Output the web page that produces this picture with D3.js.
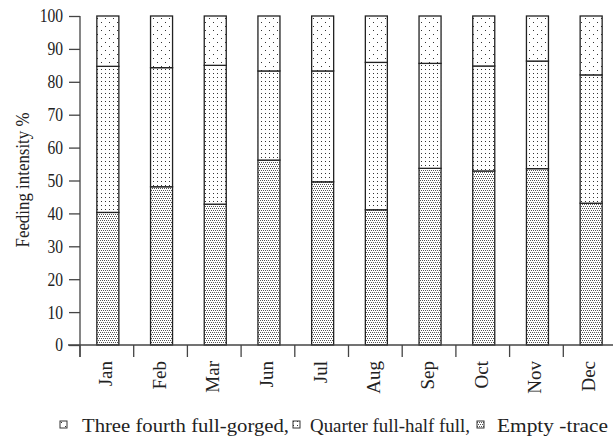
<!DOCTYPE html>
<html>
<head>
<meta charset="utf-8">
<script src="https://cdn.jsdelivr.net/npm/d3@7/dist/d3.min.js"></script>
</head>
<body style="margin:0">
<svg id="chart" width="613" height="436"></svg>
<script>
// Monate und Anteile (%) je Fuellungsgrad, von unten nach oben gestapelt
const months = ["Jan", "Feb", "Mar", "Jun", "Jul", "Aug", "Sep", "Oct", "Nov", "Dec"];
const emptyTrace = [40.3, 48.1, 42.8, 56.2, 49.6, 41.1, 53.7, 52.9, 53.6, 43.1];
const quarterHalf = [44.4, 36.2, 42.2, 27.1, 33.7, 44.8, 31.9, 31.9, 32.7, 39.0];
const threeFourth = [15.3, 15.7, 15.0, 16.7, 16.7, 14.1, 14.4, 15.2, 13.7, 17.9];
const yTicks = [0, 10, 20, 30, 40, 50, 60, 70, 80, 90, 100];

const seriesKeys = ["empty", "quarter", "three"];
const legendLabels = ["Three fourth full-gorged,", "Quarter full-half full,", "Empty -trace"];

const table = months.map((m, i) => ({
  month: m,
  empty: emptyTrace[i],
  quarter: quarterHalf[i],
  three: threeFourth[i]
}));

const serif = "Liberation Serif";
const svg = d3.select("#chart");
const margin = { left: 80, top: 16, bottom: 345 };

// Muster (Punktraster) fuer die drei Klassen
const defs = svg.append("defs");
function dotPattern(id, w, h, dots, color) {
  const p = defs.append("pattern")
    .attr("id", id)
    .attr("patternUnits", "userSpaceOnUse")
    .attr("width", w)
    .attr("height", h);
  p.append("rect").attr("width", w).attr("height", h).attr("fill", "#fff");
  dots.forEach(d => {
    p.append("rect")
      .attr("x", d[0]).attr("y", d[1])
      .attr("width", 1).attr("height", 1)
      .attr("fill", color);
  });
}
dotPattern("pat-three", 8, 8, [[1, 2], [5, 6]], "#333");
dotPattern("pat-quarter", 4, 4, [[1, 1]], "#333");
dotPattern("pat-empty", 4, 4, [[0, 0], [2, 0], [1, 2], [3, 2]], "#555");

const fillFor = {
  empty: "url(#pat-empty)",
  quarter: "url(#pat-quarter)",
  three: "url(#pat-three)"
};

const x = d3.scaleBand()
  .domain(months)
  .range([margin.left, 617])
  .paddingInner(0.59)
  .paddingOuter(0.295);

const y = d3.scaleLinear()
  .domain([0, 100])
  .range([margin.bottom, margin.top]);

const stacked = d3.stack().keys(seriesKeys)(table);

// Balken
const layers = svg.append("g").attr("class", "bars")
  .selectAll("g")
  .data(stacked)
  .enter()
  .append("g")
    .attr("fill", d => fillFor[d.key]);

layers.selectAll("rect")
  .data(d => d)
  .enter()
  .append("rect")
    .attr("x", d => x(d.data.month) + 1)
    .attr("y", d => y(d[1]))
    .attr("width", x.bandwidth())
    .attr("height", d => y(d[0]) - y(d[1]))
    .attr("stroke", "#222")
    .attr("stroke-width", 1.3);

// Achsenlinien
const axisColor = "#444";
svg.append("line")
  .attr("x1", margin.left).attr("x2", margin.left)
  .attr("y1", y(100)).attr("y2", margin.bottom + 12)
  .attr("stroke", axisColor).attr("stroke-width", 1.3);
svg.append("line")
  .attr("x1", margin.left - 12).attr("x2", 617)
  .attr("y1", margin.bottom).attr("y2", margin.bottom)
  .attr("stroke", axisColor).attr("stroke-width", 1.3);

// y-Achse: Striche ueber d3.axisLeft, Zahlen als eigene Texte
const yAxis = svg.append("g")
  .attr("transform", `translate(${margin.left},0)`)
  .call(d3.axisLeft(y).tickValues(yTicks).tickSize(11).tickSizeOuter(0).tickFormat(""));
yAxis.select(".domain").remove();
yAxis.selectAll(".tick line").attr("stroke", axisColor).attr("stroke-width", 1.3);

svg.append("g").selectAll("text")
  .data(yTicks)
  .enter()
  .append("text")
    .attr("transform", d => `translate(63,${y(d)}) scale(0.82,1)`)
    .attr("text-anchor", "end")
    .attr("dy", "0.34em")
    .attr("font-family", serif)
    .style("font-family", serif)
    .attr("font-size", 19)
    .attr("fill", "#222")
    .text(d => d);

// x-Achse: Striche an den Kategoriegrenzen
const step = x.step();
const boundaries = months.map(m => x(m) + x.bandwidth() / 2 - step / 2);
boundaries.push(x(months[months.length - 1]) + x.bandwidth() / 2 + step / 2);

svg.append("g").selectAll("line")
  .data(boundaries)
  .enter()
  .append("line")
    .attr("x1", d => d).attr("x2", d => d)
    .attr("y1", margin.bottom).attr("y2", margin.bottom + 12)
    .attr("stroke", axisColor).attr("stroke-width", 1.3);

svg.append("g").selectAll("text")
  .data(months)
  .enter()
  .append("text")
    .attr("transform", d => `translate(${x(d) + x.bandwidth() / 2 + 5},361) rotate(-90)`)
    .attr("text-anchor", "end")
    .attr("font-family", serif)
    .style("font-family", serif)
    .attr("font-size", 19)
    .attr("fill", "#222")
    .text(d => d);

// y-Beschriftung
svg.append("text")
  .attr("transform", "translate(29,180) rotate(-90)")
  .attr("text-anchor", "middle")
  .attr("font-family", serif)
  .style("font-family", serif)
  .attr("font-size", 18)
  .attr("fill", "#222")
  .attr("textLength", 135)
  .attr("lengthAdjust", "spacingAndGlyphs")
  .text("Feeding intensity %");

// Legende
const legendItems = [
  { key: "three", label: legendLabels[0], box: 60, tx: 82, tw: 207 },
  { key: "quarter", label: legendLabels[1], box: 293, tx: 310, tw: 160 },
  { key: "empty", label: legendLabels[2], box: 477, tx: 497, tw: 111 }
];
const legend = svg.append("g").attr("class", "legend");
legend.selectAll("rect")
  .data(legendItems)
  .enter()
  .append("rect")
    .attr("x", d => d.box)
    .attr("y", 421)
    .attr("width", 7)
    .attr("height", 7)
    .attr("fill", d => fillFor[d.key])
    .attr("stroke", "#333")
    .attr("stroke-width", 1);
legend.selectAll("text")
  .data(legendItems)
  .enter()
  .append("text")
    .attr("x", d => d.tx)
    .attr("y", 432)
    .attr("font-family", serif)
    .style("font-family", serif)
    .attr("font-size", 19)
    .attr("fill", "#222")
    .attr("textLength", d => d.tw)
    .attr("lengthAdjust", "spacingAndGlyphs")
    .text(d => d.label);
</script>
</body>
</html>
